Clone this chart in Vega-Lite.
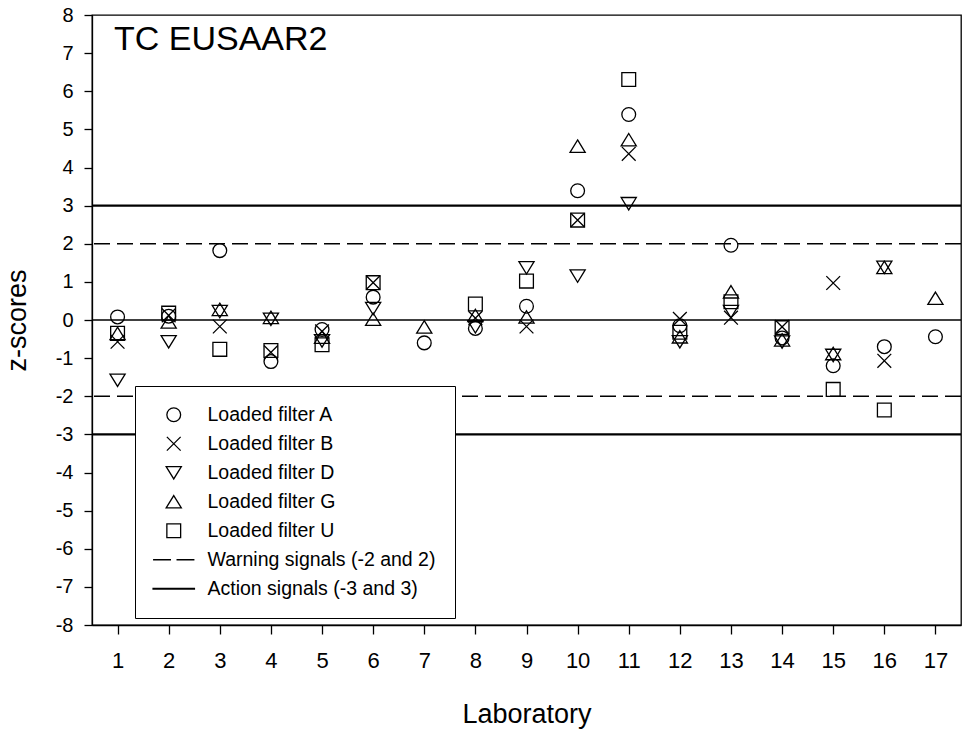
{
  "$schema": "https://vega.github.io/schema/vega-lite/v6.json",
  "width": 869,
  "height": 610,
  "autosize": {"type": "none"},
  "padding": {"left": 92, "top": 15, "right": 2, "bottom": 109},
  "background": "white",
  "title": {
    "text": "TC EUSAAR2",
    "anchor": "start",
    "frame": "group",
    "offset": -37,
    "dx": 22,
    "dy": 42,
    "fontSize": 34,
    "fontWeight": "normal",
    "font": "Liberation Sans",
    "color": "black",
    "baseline": "alphabetic"
  },
  "config": {
    "view": {"stroke": "black", "strokeWidth": 1.3},
    "font": "Liberation Sans",
    "axis": {
      "grid": false,
      "domainColor": "black",
      "domainWidth": 1.3,
      "tickColor": "black",
      "tickWidth": 1.3,
      "labelColor": "black",
      "titleColor": "black",
      "labelFont": "Liberation Sans",
      "titleFont": "Liberation Sans",
      "titleFontWeight": "normal"
    }
  },
  "datasets": {
    "points": [
      {"lab": 1, "filter": "Loaded filter A", "z": 0.08},
      {"lab": 1, "filter": "Loaded filter B", "z": -0.57},
      {"lab": 1, "filter": "Loaded filter D", "z": -1.58},
      {"lab": 1, "filter": "Loaded filter G", "z": -0.35},
      {"lab": 1, "filter": "Loaded filter U", "z": -0.35},
      {"lab": 2, "filter": "Loaded filter A", "z": 0.1},
      {"lab": 2, "filter": "Loaded filter B", "z": 0.12},
      {"lab": 2, "filter": "Loaded filter D", "z": -0.57},
      {"lab": 2, "filter": "Loaded filter G", "z": -0.05},
      {"lab": 2, "filter": "Loaded filter U", "z": 0.18},
      {"lab": 3, "filter": "Loaded filter A", "z": 1.82},
      {"lab": 3, "filter": "Loaded filter B", "z": -0.17},
      {"lab": 3, "filter": "Loaded filter D", "z": 0.22},
      {"lab": 3, "filter": "Loaded filter G", "z": 0.28},
      {"lab": 3, "filter": "Loaded filter U", "z": -0.77},
      {"lab": 4, "filter": "Loaded filter A", "z": -1.09},
      {"lab": 4, "filter": "Loaded filter B", "z": -0.85},
      {"lab": 4, "filter": "Loaded filter D", "z": 0.02},
      {"lab": 4, "filter": "Loaded filter G", "z": 0.07},
      {"lab": 4, "filter": "Loaded filter U", "z": -0.8},
      {"lab": 5, "filter": "Loaded filter A", "z": -0.25},
      {"lab": 5, "filter": "Loaded filter B", "z": -0.3},
      {"lab": 5, "filter": "Loaded filter D", "z": -0.55},
      {"lab": 5, "filter": "Loaded filter G", "z": -0.45},
      {"lab": 5, "filter": "Loaded filter U", "z": -0.65},
      {"lab": 6, "filter": "Loaded filter A", "z": 0.6},
      {"lab": 6, "filter": "Loaded filter B", "z": 0.98},
      {"lab": 6, "filter": "Loaded filter D", "z": 0.3},
      {"lab": 6, "filter": "Loaded filter G", "z": 0.02},
      {"lab": 6, "filter": "Loaded filter U", "z": 0.98},
      {"lab": 7, "filter": "Loaded filter A", "z": -0.6},
      {"lab": 7, "filter": "Loaded filter G", "z": -0.18},
      {"lab": 8, "filter": "Loaded filter A", "z": -0.22},
      {"lab": 8, "filter": "Loaded filter B", "z": 0.05},
      {"lab": 8, "filter": "Loaded filter D", "z": -0.18},
      {"lab": 8, "filter": "Loaded filter G", "z": 0.12},
      {"lab": 8, "filter": "Loaded filter U", "z": 0.42},
      {"lab": 9, "filter": "Loaded filter A", "z": 0.36},
      {"lab": 9, "filter": "Loaded filter B", "z": -0.17},
      {"lab": 9, "filter": "Loaded filter D", "z": 1.37},
      {"lab": 9, "filter": "Loaded filter G", "z": 0.08},
      {"lab": 9, "filter": "Loaded filter U", "z": 1.02},
      {"lab": 10, "filter": "Loaded filter A", "z": 3.39},
      {"lab": 10, "filter": "Loaded filter B", "z": 2.62},
      {"lab": 10, "filter": "Loaded filter D", "z": 1.15},
      {"lab": 10, "filter": "Loaded filter G", "z": 4.56},
      {"lab": 10, "filter": "Loaded filter U", "z": 2.62},
      {"lab": 11, "filter": "Loaded filter A", "z": 5.39},
      {"lab": 11, "filter": "Loaded filter B", "z": 4.36},
      {"lab": 11, "filter": "Loaded filter D", "z": 3.05},
      {"lab": 11, "filter": "Loaded filter G", "z": 4.73},
      {"lab": 11, "filter": "Loaded filter U", "z": 6.31},
      {"lab": 12, "filter": "Loaded filter A", "z": -0.15},
      {"lab": 12, "filter": "Loaded filter B", "z": 0.03},
      {"lab": 12, "filter": "Loaded filter D", "z": -0.57},
      {"lab": 12, "filter": "Loaded filter G", "z": -0.44},
      {"lab": 12, "filter": "Loaded filter U", "z": -0.32},
      {"lab": 13, "filter": "Loaded filter A", "z": 1.96},
      {"lab": 13, "filter": "Loaded filter B", "z": 0.06},
      {"lab": 13, "filter": "Loaded filter D", "z": 0.22},
      {"lab": 13, "filter": "Loaded filter G", "z": 0.74},
      {"lab": 13, "filter": "Loaded filter U", "z": 0.48},
      {"lab": 14, "filter": "Loaded filter A", "z": -0.47},
      {"lab": 14, "filter": "Loaded filter B", "z": -0.18},
      {"lab": 14, "filter": "Loaded filter D", "z": -0.58},
      {"lab": 14, "filter": "Loaded filter G", "z": -0.52},
      {"lab": 14, "filter": "Loaded filter U", "z": -0.2},
      {"lab": 15, "filter": "Loaded filter A", "z": -1.2},
      {"lab": 15, "filter": "Loaded filter B", "z": 0.97},
      {"lab": 15, "filter": "Loaded filter D", "z": -0.93},
      {"lab": 15, "filter": "Loaded filter G", "z": -0.88},
      {"lab": 15, "filter": "Loaded filter U", "z": -1.82},
      {"lab": 16, "filter": "Loaded filter A", "z": -0.7},
      {"lab": 16, "filter": "Loaded filter B", "z": -1.07},
      {"lab": 16, "filter": "Loaded filter D", "z": 1.38},
      {"lab": 16, "filter": "Loaded filter G", "z": 1.38},
      {"lab": 16, "filter": "Loaded filter U", "z": -2.36},
      {"lab": 17, "filter": "Loaded filter A", "z": -0.44},
      {"lab": 17, "filter": "Loaded filter G", "z": 0.57}
    ],
    "zero": [{"z": 0}],
    "warning": [{"z": -2}, {"z": 2}],
    "action": [{"z": -3}, {"z": 3}]
  },
  "encoding": {
    "y": {
      "field": "z",
      "type": "quantitative",
      "title": "z-scores",
      "scale": {"domain": [-8, 8], "nice": false, "zero": false},
      "axis": {
        "values": [-8, -7, -6, -5, -4, -3, -2, -1, 0, 1, 2, 3, 4, 5, 6, 7, 8],
        "labelExpr": "datum.value + ''",
        "tickSize": 8,
        "labelFontSize": 20,
        "labelPadding": 11,
        "titleFontSize": 27,
        "titlePadding": 24
      }
    }
  },
  "layer": [
    {
      "data": {"name": "zero"},
      "mark": {"type": "rule", "color": "black", "strokeWidth": 1.3},
      "encoding": {}
    },
    {
      "data": {"name": "warning"},
      "mark": {"type": "rule", "color": "black", "strokeWidth": 1.3, "strokeDash": [16, 7]},
      "encoding": {}
    },
    {
      "data": {"name": "action"},
      "mark": {"type": "rule", "color": "black", "strokeWidth": 2.2},
      "encoding": {}
    },
    {
      "data": {"name": "points"},
      "mark": {"type": "point", "filled": false, "color": "black", "strokeWidth": 1.3, "size": 190, "opacity": 1},
      "encoding": {
        "x": {
          "field": "lab",
          "type": "quantitative",
          "title": "Laboratory",
          "scale": {"domain": [0.5, 17.5], "nice": false, "zero": false},
          "axis": {
            "values": [1, 2, 3, 4, 5, 6, 7, 8, 9, 10, 11, 12, 13, 14, 15, 16, 17],
            "format": "d",
            "tickSize": 9,
            "labelFontSize": 22,
            "labelPadding": 16,
            "titleFontSize": 27,
            "titlePadding": 30
          }
        },
        "shape": {
          "field": "filter",
          "type": "nominal",
          "scale": {
            "domain": ["Loaded filter A", "Loaded filter B", "Loaded filter D", "Loaded filter G", "Loaded filter U", "Warning signals (-2 and 2)", "Action signals (-3 and 3)"],
            "range": ["circle", "M-1,-1L1,1M-1,1L1,-1", "M-1.1,-0.9L1.1,-0.9L0,0.9Z", "M0,-0.9L1.1,0.9L-1.1,0.9Z", "square", "M-3,0H-0.4M0.4,0H3", "M-3,-0.06H3V0.06H-3Z"]
          },
          "legend": {
            "title": null,
            "orient": "none",
            "legendX": 43,
            "legendY": 371,
            "padding": 19,
            "strokeColor": "black",
            "fillColor": "white",
            "symbolSize": 190,
            "symbolStrokeColor": "black",
            "symbolStrokeWidth": 1.3,
            "symbolFillColor": "transparent",
            "symbolOffset": 10,
            "labelOffset": 24,
            "labelFontSize": 19.5,
            "labelFont": "Liberation Sans",
            "labelColor": "black",
            "labelLimit": 400,
            "rowPadding": 8
          }
        }
      }
    }
  ]
}
